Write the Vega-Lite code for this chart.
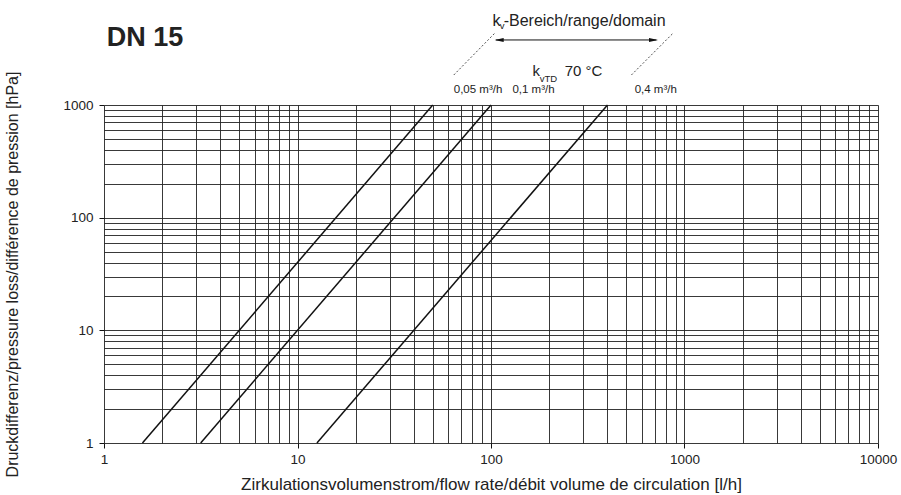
{
  "$schema": "https://vega.github.io/schema/vega-lite/v6.json",
  "width": 774,
  "height": 338,
  "autosize": {"type": "none"},
  "padding": {"left": 104, "top": 105, "right": 23, "bottom": 52},
  "background": "white",
  "config": {
    "font": "Liberation Sans",
    "view": {"stroke": null},
    "text": {"font": "Liberation Sans", "color": "#222"}
  },
  "layer": [
    {
      "data": {"values": [
        {"kv": "0,05 m³/h", "flow": 1.58, "dp": 1},
        {"kv": "0,05 m³/h", "flow": 50, "dp": 1000},
        {"kv": "0,1 m³/h", "flow": 3.16, "dp": 1},
        {"kv": "0,1 m³/h", "flow": 100, "dp": 1000},
        {"kv": "0,4 m³/h", "flow": 12.6, "dp": 1},
        {"kv": "0,4 m³/h", "flow": 400, "dp": 1000}
      ]},
      "mark": {"type": "line", "color": "#111", "strokeWidth": 1.5},
      "encoding": {
        "x": {
          "field": "flow", "type": "quantitative",
          "scale": {"type": "log", "domain": [1, 10000], "nice": false},
          "axis": {
            "values": [1,2,3,4,5,6,7,8,9,10,20,30,40,50,60,70,80,90,100,200,300,400,500,600,700,800,900,1000,2000,3000,4000,5000,6000,7000,8000,9000,10000],
            "title": "Zirkulationsvolumenstrom/flow rate/débit volume de circulation [l/h]",
            "grid": true, "gridColor": "#222", "gridWidth": 0.9, "gridOpacity": 1,
            "domain": false,
            "tickColor": "#111", "tickSize": 5, "tickWidth": 1,
            "tickOpacity": {"condition": {"test": "indexof([1,10,100,1000,10000], datum.value) >= 0", "value": 1}, "value": 0},
            "labelExpr": "indexof([1,10,100,1000,10000], datum.value) >= 0 ? format(datum.value, 'd') : ''",
            "labelFlush": false, "labelOverlap": false,
            "labelFont": "Liberation Sans", "labelFontSize": 13.5, "labelColor": "#222", "labelPadding": 4,
            "titleFont": "Liberation Sans", "titleFontSize": 17, "titleFontWeight": "normal", "titleColor": "#222", "titlePadding": 11
          }
        },
        "y": {
          "field": "dp", "type": "quantitative",
          "scale": {"type": "log", "domain": [1, 1000], "nice": false},
          "axis": {
            "values": [1,2,3,4,5,6,7,8,9,10,20,30,40,50,60,70,80,90,100,200,300,400,500,600,700,800,900,1000],
            "title": "Druckdifferenz/pressure loss/différence de pression [hPa]",
            "grid": true, "gridColor": "#222", "gridWidth": 0.9, "gridOpacity": 1,
            "domain": false,
            "tickColor": "#111", "tickSize": 5, "tickWidth": 1,
            "tickOpacity": {"condition": {"test": "indexof([1,10,100,1000], datum.value) >= 0", "value": 1}, "value": 0},
            "labelExpr": "indexof([1,10,100,1000], datum.value) >= 0 ? format(datum.value, 'd') : ''",
            "labelOverlap": false, "labelFlush": false,
            "labelFont": "Liberation Sans", "labelFontSize": 13.5, "labelColor": "#222", "labelPadding": 6,
            "titleFont": "Liberation Sans", "titleFontSize": 16, "titleFontWeight": "normal", "titleColor": "#222", "titlePadding": 42
          }
        },
        "detail": {"field": "kv"}
      }
    },
    {
      "data": {"values": [
        {"label": "DN 15", "flow": 1.033, "dp": 3363}
      ]},
      "mark": {"type": "text", "align": "left", "baseline": "alphabetic", "fontSize": 27, "fontWeight": "bold", "color": "#222"},
      "encoding": {
        "x": {"field": "flow", "type": "quantitative", "scale": {"type": "log"}},
        "y": {"field": "dp", "type": "quantitative", "scale": {"type": "log"}},
        "text": {"field": "label"}
      }
    },
    {
      "data": {"values": [
        {"label": "k", "flow": 101.7, "dp": 5063},
        {"label": "-Bereich/range/domain", "flow": 116.3, "dp": 5063}
      ]},
      "mark": {"type": "text", "align": "left", "baseline": "alphabetic", "fontSize": 16, "color": "#222"},
      "encoding": {
        "x": {"field": "flow", "type": "quantitative", "scale": {"type": "log"}},
        "y": {"field": "dp", "type": "quantitative", "scale": {"type": "log"}},
        "text": {"field": "label"}
      }
    },
    {
      "data": {"values": [
        {"label": "k", "flow": 163.7, "dp": 1820},
        {"label": "70 °C", "flow": 240.4, "dp": 1820}
      ]},
      "mark": {"type": "text", "align": "left", "baseline": "alphabetic", "fontSize": 15, "color": "#222"},
      "encoding": {
        "x": {"field": "flow", "type": "quantitative", "scale": {"type": "log"}},
        "y": {"field": "dp", "type": "quantitative", "scale": {"type": "log"}},
        "text": {"field": "label"}
      }
    },
    {
      "data": {"values": [
        {"label": "v", "flow": 110.9, "dp": 4685},
        {"label": "vTD", "flow": 178.5, "dp": 1610}
      ]},
      "mark": {"type": "text", "align": "left", "baseline": "alphabetic", "fontSize": 9.5, "color": "#222"},
      "encoding": {
        "x": {"field": "flow", "type": "quantitative", "scale": {"type": "log"}},
        "y": {"field": "dp", "type": "quantitative", "scale": {"type": "log"}},
        "text": {"field": "label"}
      }
    },
    {
      "data": {"values": [
        {"label": "0,05 m³/h", "flow": 64.2, "dp": 1278},
        {"label": "0,1 m³/h", "flow": 129.0, "dp": 1278},
        {"label": "0,4 m³/h", "flow": 552.8, "dp": 1278}
      ]},
      "mark": {"type": "text", "align": "left", "baseline": "alphabetic", "fontSize": 11.5, "color": "#222"},
      "encoding": {
        "x": {"field": "flow", "type": "quantitative", "scale": {"type": "log"}},
        "y": {"field": "dp", "type": "quantitative", "scale": {"type": "log"}},
        "text": {"field": "label"}
      }
    },
    {
      "data": {"values": [
        {"flow": 64.2, "dp": 1846, "flow2": 104.5, "dp2": 4334},
        {"flow": 531.6, "dp": 1846, "flow2": 872, "dp2": 4334}
      ]},
      "mark": {"type": "rule", "color": "#222", "strokeWidth": 0.8, "strokeDash": [2, 2]},
      "encoding": {
        "x": {"field": "flow", "type": "quantitative", "scale": {"type": "log"}},
        "y": {"field": "dp", "type": "quantitative", "scale": {"type": "log"}},
        "x2": {"field": "flow2"},
        "y2": {"field": "dp2"}
      }
    },
    {
      "data": {"values": [
        {"flow": 106, "dp": 3778, "flow2": 715, "dp2": 3778}
      ]},
      "mark": {"type": "rule", "color": "#111", "strokeWidth": 1},
      "encoding": {
        "x": {"field": "flow", "type": "quantitative", "scale": {"type": "log"}},
        "y": {"field": "dp", "type": "quantitative", "scale": {"type": "log"}},
        "x2": {"field": "flow2"},
        "y2": {"field": "dp2"}
      }
    },
    {
      "data": {"values": [
        {"end": "left", "flow": 104.5, "dp": 3778},
        {"end": "right", "flow": 729.6, "dp": 3778}
      ]},
      "mark": {"type": "point", "filled": true, "color": "#111", "opacity": 1, "size": 81, "strokeWidth": 0},
      "encoding": {
        "x": {"field": "flow", "type": "quantitative", "scale": {"type": "log"}},
        "y": {"field": "dp", "type": "quantitative", "scale": {"type": "log"}},
        "shape": {"field": "end", "type": "nominal", "legend": null,
          "scale": {"domain": ["left", "right"], "range": ["M0,0L2,-0.45L2,0.45Z", "M0,0L-2,-0.45L-2,0.45Z"]}}
      }
    }
  ]
}
